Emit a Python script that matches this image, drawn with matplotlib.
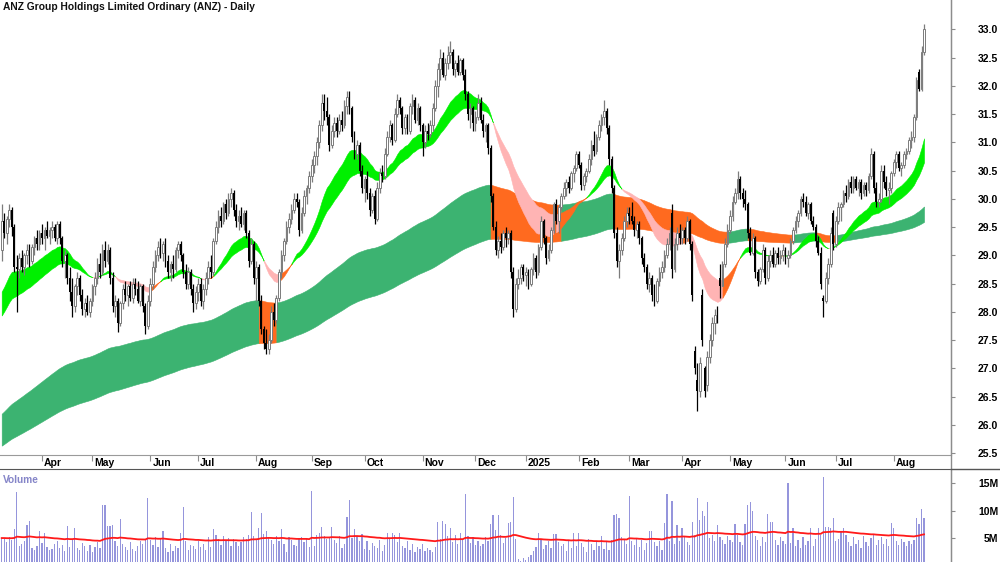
import numpy as np
import pandas as pd
import matplotlib.pyplot as plt
from matplotlib.lines import Line2D
from matplotlib.transforms import ScaledTranslation

plt.rcParams['font.family'] = ['Liberation Sans', 'DejaVu Sans']

# ASX trading days shown on the chart
asx_holidays = ['2024-03-29', '2024-04-01', '2024-04-25', '2024-06-10', '2024-12-25',
                '2024-12-26', '2025-01-01', '2025-01-27', '2025-04-18', '2025-04-21',
                '2025-04-25', '2025-06-09']
dates = pd.bdate_range('2024-03-07', '2025-08-18', freq='C', holidays=asx_holidays)

opens = [
    29.1, 29.6, 29.4, 29.65, 29.8, 29.5, 28.8, 28.75, 28.95, 28.8,
    29.0, 29.1, 28.9, 29.15, 29.3, 29.2, 29.4, 29.3, 29.45, 29.35,
    29.45, 29.5, 29.3, 29.55, 29.3, 28.9, 29.0, 28.6, 28.35, 28.1,
    28.45, 28.6, 28.3, 28.05, 28.15, 28.0, 28.2, 28.45, 28.6, 28.85,
    28.7, 29.1, 28.9, 29.1, 28.6, 28.1, 28.2, 27.8, 28.15, 28.4,
    28.3, 28.45, 28.25, 28.5, 28.4, 28.2, 28.45, 28.1, 27.75, 28.2,
    28.5, 28.8, 29.0, 29.15, 29.05, 29.2, 28.9, 28.7, 28.85, 28.75,
    29.1, 29.2, 29.0, 28.7, 28.5, 28.7, 28.4, 28.15, 28.35, 28.5,
    28.2, 28.4, 28.6, 28.8, 28.7, 29.25, 29.5, 29.7, 29.6, 29.9,
    29.75, 30.0, 30.1, 29.8, 29.6, 29.7, 29.55, 29.75, 29.4, 28.9,
    29.2, 28.6, 28.8, 28.2, 27.7, 27.45, 27.35, 27.5, 28.0, 27.85,
    28.25, 28.7, 29.0, 29.25, 29.5, 29.65, 29.8, 30.0, 29.95, 29.45,
    29.75, 30.05, 30.2, 30.4, 30.6, 30.75, 31.0, 31.3, 31.7, 31.55,
    31.45, 30.95, 31.2, 31.35, 31.2, 31.4, 31.3, 31.65, 31.8, 31.6,
    31.1, 30.8, 30.95, 30.5, 30.2, 30.35, 30.1, 29.8, 30.05, 29.65,
    30.2, 30.45, 30.4, 30.8, 31.1, 31.3, 31.05, 31.5, 31.75, 31.6,
    31.25, 31.45, 31.2, 31.65, 31.75, 31.4, 31.6, 31.3, 31.0, 31.2,
    31.15, 31.3, 31.6, 32.0, 32.3, 32.5, 32.2, 32.4, 32.55, 32.6,
    32.3, 32.4, 32.25, 32.45, 32.2, 31.85, 31.5, 31.6, 31.35, 31.45,
    31.7, 31.4, 31.2, 31.3, 30.9, 30.05, 29.5, 29.1, 29.25, 29.15,
    29.4, 29.3, 29.4, 28.7, 28.05, 28.5, 28.6, 28.8, 28.65, 28.7,
    28.5, 28.75, 28.95, 28.7, 29.15, 29.6, 29.3, 28.95, 29.1, 29.45,
    29.9, 29.6, 29.85, 30.05, 30.2, 30.3, 30.2, 30.45, 30.55, 30.8,
    30.6, 30.25, 30.4, 30.5, 30.7, 30.95, 30.85, 31.1, 31.3, 31.45,
    31.55, 31.25, 30.7, 30.2, 29.4, 28.9, 29.1, 29.3, 29.6, 29.75,
    29.7, 29.6, 29.45, 29.55, 29.3, 28.95, 28.8, 28.5, 28.6, 28.3,
    28.2, 28.55, 28.7, 28.8, 29.0, 29.2, 29.75, 28.75, 29.2, 29.4,
    29.3, 29.45, 29.3, 29.6, 29.2, 27.3, 26.8, 26.6, 28.3, 27.0,
    26.7, 27.2, 27.5, 27.8, 27.95, 28.6, 28.45, 28.85, 29.2, 29.45,
    29.7, 29.95, 30.1, 30.35, 30.1, 30.0, 29.9, 29.4, 29.05, 29.3,
    28.7, 28.55, 28.75, 29.1, 28.6, 28.9, 29.0, 28.85, 29.05, 28.95,
    29.0, 29.1, 28.95, 29.0, 29.25, 29.45, 29.6, 29.75, 30.0, 29.95,
    29.75, 29.9, 29.6, 29.5, 29.25, 29.05, 28.25, 28.2, 28.6, 28.85,
    29.75, 29.2, 29.6, 29.85, 29.9, 30.1, 30.05, 30.3, 30.2, 30.35,
    30.2, 30.3, 30.1, 30.25, 30.15, 30.4, 30.8, 30.2, 29.95, 30.0,
    30.5, 30.3, 30.15, 30.2, 30.45, 30.65, 30.8, 30.55, 30.6, 30.8,
    30.85, 31.05, 31.1, 31.45, 32.25, 31.95, 32.6,
]
highs = [
    29.9, 29.75, 29.7, 29.9, 29.85, 29.55, 29.0, 29.05, 29.1, 29.05,
    29.2, 29.2, 29.2, 29.35, 29.45, 29.45, 29.55, 29.5, 29.6, 29.5,
    29.6, 29.55, 29.6, 29.6, 29.35, 29.1, 29.05, 28.8, 28.6, 28.5,
    28.7, 28.65, 28.4, 28.25, 28.3, 28.25, 28.5, 28.7, 28.95, 29.05,
    29.2, 29.25, 29.2, 29.15, 28.7, 28.3, 28.25, 28.2, 28.5, 28.55,
    28.5, 28.55, 28.6, 28.6, 28.55, 28.5, 28.5, 28.15, 28.3, 28.6,
    28.9, 29.1, 29.25, 29.3, 29.25, 29.3, 29.0, 28.9, 29.0, 29.15,
    29.25, 29.25, 29.05, 28.85, 28.8, 28.75, 28.5, 28.45, 28.6, 28.6,
    28.5, 28.7, 28.9, 29.0, 29.3, 29.6, 29.8, 29.85, 29.95, 30.0,
    30.1, 30.2, 30.15, 29.9, 29.8, 29.85, 29.8, 29.8, 29.45, 29.3,
    29.25, 28.9, 28.85, 28.3, 27.75, 27.7, 27.6, 28.1, 28.15, 28.3,
    28.75, 29.1, 29.3, 29.6, 29.75, 29.9, 30.1, 30.1, 30.0, 29.85,
    30.15, 30.25, 30.5, 30.7, 30.85, 31.1, 31.4, 31.85, 31.85, 31.8,
    31.5, 31.3, 31.45, 31.45, 31.5, 31.55, 31.75, 31.9, 31.9, 31.65,
    31.2, 31.05, 31.0, 30.6, 30.4, 30.5, 30.2, 30.1, 30.15, 30.3,
    30.55, 30.6, 30.9, 31.2, 31.4, 31.35, 31.6, 31.85, 31.8, 31.65,
    31.5, 31.5, 31.7, 31.85, 31.8, 31.7, 31.65, 31.35, 31.3, 31.35,
    31.4, 31.7, 32.1, 32.4, 32.65, 32.6, 32.5, 32.7, 32.8, 32.65,
    32.45, 32.55, 32.5, 32.5, 32.3, 31.9, 31.7, 31.65, 31.55, 31.85,
    31.8, 31.5, 31.35, 31.35, 30.95, 30.1, 29.6, 29.35, 29.4, 29.45,
    29.5, 29.45, 29.45, 28.8, 28.6, 28.75, 28.85, 28.85, 28.8, 28.75,
    28.8, 29.05, 29.0, 29.2, 29.7, 29.65, 29.35, 29.2, 29.5, 29.95,
    30.0, 29.9, 30.1, 30.3, 30.35, 30.4, 30.5, 30.6, 30.85, 30.85,
    30.65, 30.45, 30.55, 30.8, 31.05, 31.2, 31.15, 31.4, 31.5, 31.75,
    31.6, 31.3, 30.75, 30.25, 29.5, 29.2, 29.4, 29.7, 29.85, 29.85,
    29.95, 29.7, 29.6, 29.6, 29.35, 29.05, 28.85, 28.7, 28.65, 28.5,
    28.6, 28.8, 28.9, 29.1, 29.3, 29.5, 29.9, 29.3, 29.5, 29.55,
    29.5, 29.5, 29.7, 29.65, 29.25, 27.4, 27.1, 27.2, 28.4, 27.05,
    27.3, 27.6, 27.9, 28.05, 28.1, 28.85, 28.9, 29.3, 29.55, 29.8,
    30.05, 30.2, 30.5, 30.4, 30.2, 30.15, 29.95, 29.5, 29.4, 29.35,
    28.75, 28.8, 29.2, 29.15, 29.0, 29.1, 29.15, 29.1, 29.15, 29.1,
    29.2, 29.15, 29.1, 29.3, 29.5, 29.7, 29.8, 30.05, 30.1, 30.05,
    29.95, 29.95, 29.7, 29.55, 29.35, 29.15, 28.3, 28.7, 28.95, 29.5,
    29.8, 29.7, 29.95, 29.95, 30.15, 30.25, 30.35, 30.4, 30.4, 30.4,
    30.35, 30.35, 30.3, 30.3, 30.45, 30.9, 30.85, 30.3, 30.1, 30.6,
    30.6, 30.4, 30.3, 30.5, 30.7, 30.85, 30.85, 30.65, 30.85, 30.9,
    31.1, 31.2, 31.5, 32.15, 32.3, 32.7, 33.1,
]
lows = [
    28.9, 29.3, 29.2, 29.5, 29.35, 28.7, 28.0, 28.6, 28.7, 28.65,
    28.85, 28.8, 28.85, 29.0, 29.1, 29.1, 29.2, 29.1, 29.3, 29.2,
    29.3, 29.25, 29.2, 29.2, 28.8, 28.6, 28.5, 28.2, 27.9, 28.0,
    28.3, 28.2, 27.95, 27.9, 27.95, 27.9, 28.1, 28.3, 28.5, 28.6,
    28.65, 28.8, 28.85, 28.5, 28.0, 27.9, 27.65, 27.75, 28.05, 28.2,
    28.1, 28.2, 28.15, 28.3, 28.15, 28.1, 28.0, 27.6, 27.7, 28.1,
    28.4, 28.7, 28.9, 28.95, 28.9, 28.8, 28.6, 28.55, 28.6, 28.7,
    28.95, 28.9, 28.6, 28.4, 28.4, 28.3, 28.0, 28.05, 28.2, 28.1,
    28.05, 28.3, 28.5, 28.6, 28.65, 29.2, 29.4, 29.5, 29.55, 29.65,
    29.7, 29.85, 29.7, 29.5, 29.45, 29.5, 29.45, 29.3, 28.8, 28.85,
    28.5, 28.2, 28.1, 27.6, 27.35, 27.25, 27.25, 27.45, 27.75, 27.8,
    28.2, 28.6, 28.9, 29.2, 29.4, 29.55, 29.75, 29.85, 29.35, 29.4,
    29.7, 29.9, 30.1, 30.3, 30.45, 30.6, 30.9, 31.2, 31.4, 31.3,
    30.85, 30.9, 31.1, 31.1, 31.15, 31.2, 31.25, 31.5, 31.5, 31.0,
    30.7, 30.7, 30.4, 30.1, 29.95, 30.0, 29.7, 29.75, 29.55, 29.6,
    30.1, 30.3, 30.35, 30.75, 31.0, 30.95, 31.0, 31.45, 31.5, 31.15,
    31.15, 31.15, 31.15, 31.5, 31.35, 31.3, 31.2, 30.75, 30.9, 31.05,
    31.1, 31.2, 31.55, 31.8, 32.1, 32.15, 32.1, 32.3, 32.4, 32.2,
    32.15, 32.2, 32.2, 32.1, 31.75, 31.4, 31.25, 31.2, 31.2, 31.4,
    31.35, 31.1, 31.0, 30.8, 29.95, 29.45, 29.0, 28.95, 29.05, 29.1,
    29.15, 29.2, 28.6, 27.9, 28.0, 28.4, 28.5, 28.55, 28.45, 28.4,
    28.45, 28.65, 28.6, 28.65, 29.1, 29.2, 28.85, 28.9, 29.05, 29.4,
    29.55, 29.4, 29.8, 30.0, 30.05, 30.1, 30.15, 30.3, 30.5, 30.55,
    30.15, 30.15, 30.3, 30.45, 30.6, 30.75, 30.8, 31.05, 31.2, 31.3,
    31.15, 30.6, 30.1, 29.3, 28.8, 28.6, 29.0, 29.25, 29.5, 29.55,
    29.55, 29.35, 29.3, 29.2, 28.85, 28.7, 28.4, 28.35, 28.2, 28.1,
    28.15, 28.45, 28.6, 28.7, 28.95, 29.1, 28.6, 28.7, 29.1, 29.2,
    29.2, 29.2, 29.25, 29.1, 28.2, 26.9, 26.25, 26.5, 27.4, 26.5,
    26.6, 27.1, 27.4, 27.6, 27.8, 28.25, 28.45, 28.8, 29.15, 29.4,
    29.6, 29.9, 30.0, 30.0, 29.85, 29.8, 29.3, 29.0, 29.0, 28.6,
    28.45, 28.5, 28.7, 28.5, 28.55, 28.8, 28.8, 28.8, 28.85, 28.85,
    28.9, 28.85, 28.8, 28.95, 29.2, 29.4, 29.5, 29.7, 29.85, 29.7,
    29.65, 29.55, 29.45, 29.15, 29.0, 28.4, 27.9, 28.15, 28.5, 28.8,
    29.1, 29.15, 29.55, 29.6, 29.85, 29.95, 30.0, 30.1, 30.1, 30.15,
    30.05, 30.0, 30.05, 30.05, 30.1, 30.35, 30.1, 29.85, 29.85, 29.95,
    30.2, 30.05, 29.9, 30.1, 30.4, 30.55, 30.5, 30.4, 30.55, 30.7,
    30.8, 30.9, 31.0, 31.4, 31.9, 31.9, 32.55,
]
closes = [
    29.6, 29.4, 29.65, 29.8, 29.5, 28.8, 28.75, 28.95, 28.8, 29.0,
    29.1, 28.9, 29.15, 29.3, 29.2, 29.4, 29.3, 29.45, 29.35, 29.45,
    29.5, 29.3, 29.55, 29.3, 28.9, 29.0, 28.6, 28.35, 28.1, 28.45,
    28.6, 28.3, 28.05, 28.15, 28.0, 28.2, 28.45, 28.6, 28.85, 28.7,
    29.1, 28.9, 29.1, 28.6, 28.1, 28.2, 27.8, 28.15, 28.4, 28.3,
    28.45, 28.25, 28.5, 28.4, 28.2, 28.45, 28.1, 27.75, 28.2, 28.5,
    28.8, 29.0, 29.15, 29.05, 29.2, 28.9, 28.7, 28.85, 28.75, 29.1,
    29.2, 29.0, 28.7, 28.5, 28.7, 28.4, 28.15, 28.35, 28.5, 28.2,
    28.4, 28.6, 28.8, 28.7, 29.25, 29.5, 29.7, 29.6, 29.9, 29.75,
    30.0, 30.1, 29.8, 29.6, 29.7, 29.55, 29.75, 29.4, 28.9, 29.2,
    28.6, 28.8, 28.2, 27.7, 27.45, 27.35, 27.5, 28.0, 27.85, 28.25,
    28.7, 29.0, 29.25, 29.5, 29.65, 29.8, 30.0, 29.95, 29.45, 29.75,
    30.05, 30.2, 30.4, 30.6, 30.75, 31.0, 31.3, 31.7, 31.55, 31.45,
    30.95, 31.2, 31.35, 31.2, 31.4, 31.3, 31.65, 31.8, 31.6, 31.1,
    30.8, 30.95, 30.5, 30.2, 30.35, 30.1, 29.8, 30.05, 29.65, 30.2,
    30.45, 30.4, 30.8, 31.1, 31.3, 31.05, 31.5, 31.75, 31.6, 31.25,
    31.45, 31.2, 31.65, 31.75, 31.4, 31.6, 31.3, 31.0, 31.2, 31.15,
    31.3, 31.6, 32.0, 32.3, 32.5, 32.2, 32.4, 32.55, 32.6, 32.3,
    32.4, 32.25, 32.45, 32.2, 31.85, 31.5, 31.6, 31.35, 31.45, 31.7,
    31.4, 31.2, 31.3, 30.9, 30.05, 29.5, 29.1, 29.25, 29.15, 29.4,
    29.3, 29.4, 28.7, 28.05, 28.5, 28.6, 28.8, 28.65, 28.7, 28.5,
    28.75, 28.95, 28.7, 29.15, 29.6, 29.3, 28.95, 29.1, 29.45, 29.9,
    29.6, 29.85, 30.05, 30.2, 30.3, 30.2, 30.45, 30.55, 30.8, 30.6,
    30.25, 30.4, 30.5, 30.7, 30.95, 30.85, 31.1, 31.3, 31.45, 31.55,
    31.25, 30.7, 30.2, 29.4, 28.9, 29.1, 29.3, 29.6, 29.75, 29.7,
    29.6, 29.45, 29.55, 29.3, 28.95, 28.8, 28.5, 28.6, 28.3, 28.2,
    28.55, 28.7, 28.8, 29.0, 29.2, 29.4, 28.75, 29.2, 29.4, 29.3,
    29.45, 29.3, 29.6, 29.2, 28.3, 27.0, 26.6, 27.1, 27.5, 26.6,
    27.2, 27.5, 27.8, 27.95, 27.9, 28.45, 28.85, 29.2, 29.45, 29.7,
    29.95, 30.1, 30.35, 30.1, 30.0, 29.9, 29.4, 29.05, 29.3, 28.7,
    28.55, 28.75, 29.1, 28.6, 28.9, 29.0, 28.85, 29.05, 28.95, 29.0,
    29.1, 28.95, 29.0, 29.25, 29.45, 29.6, 29.75, 30.0, 29.95, 29.75,
    29.9, 29.6, 29.5, 29.25, 29.05, 28.5, 28.2, 28.6, 28.85, 29.4,
    29.2, 29.6, 29.85, 29.9, 30.1, 30.05, 30.3, 30.2, 30.35, 30.2,
    30.3, 30.1, 30.25, 30.15, 30.4, 30.8, 30.2, 29.95, 30.0, 30.5,
    30.3, 30.15, 30.2, 30.45, 30.65, 30.8, 30.55, 30.6, 30.8, 30.85,
    31.05, 31.1, 31.45, 32.1, 31.95, 32.6, 33.0,
]
# volume in millions of shares
volumes = [
    4.8, 5.0, 4.2, 5.1, 4.6, 6.6, 13.4, 3.5, 4.0, 4.4,
    7.4, 8.1, 3.2, 2.9, 3.6, 6.2, 4.1, 6.0, 3.3, 2.8,
    3.0, 3.9, 4.4, 3.1, 3.7, 2.6, 7.2, 3.3, 4.6, 6.9,
    3.2, 2.9, 4.1, 3.5, 2.7, 3.8, 2.4, 3.4, 4.3, 3.1,
    11.0, 11.0, 7.2, 7.2, 7.3, 4.5, 3.6, 8.4, 4.0, 3.3,
    2.8, 4.2, 3.0, 2.6, 3.5, 4.4, 3.9, 4.8, 12.3, 4.6,
    3.7, 5.2, 3.4, 4.9, 6.2, 3.1, 2.5, 4.0, 2.7, 3.6,
    3.2, 6.0, 10.6, 4.4, 2.9, 3.8, 3.5, 3.0, 4.5, 3.3,
    3.9, 2.8, 5.1, 3.4, 6.6, 5.5, 4.8, 3.7, 5.3, 4.4,
    5.0, 3.6, 4.9, 4.2, 3.5, 4.3, 5.2, 4.8, 5.6, 9.7,
    5.4, 4.9, 6.9, 9.6, 5.8, 6.2, 5.0, 4.7, 3.9, 5.3,
    4.4, 6.6, 4.0, 2.4, 5.1, 4.6, 3.8, 3.5, 4.9, 5.2,
    4.2, 5.0, 3.4, 13.5, 3.6, 5.6, 6.0, 7.0, 5.4, 4.8,
    5.2, 7.0, 4.6, 4.1, 5.3, 3.2, 4.0, 8.8, 11.9, 5.0,
    6.6, 5.4, 4.5, 5.8, 3.0, 4.4, 2.9, 4.1, 3.5, 3.2,
    4.6, 2.7, 3.8, 5.9, 4.8, 5.9, 5.6, 4.3, 5.9, 3.6,
    3.1, 4.5, 2.8, 3.9, 2.5, 3.4, 3.0, 4.0, 2.6, 3.2,
    2.9, 2.4, 3.3, 7.9, 4.9, 8.1, 7.5, 5.4, 6.9, 4.2,
    5.5, 3.9, 5.9, 4.6, 13.0, 5.3, 4.1, 5.1, 3.7, 4.5,
    3.6, 4.0, 5.2, 4.4, 7.6, 9.2, 6.4, 9.2, 5.6, 4.1,
    5.0, 7.8, 8.0, 12.4, 4.9, 1.2, 0.8, 1.4, 1.0, 1.5,
    1.9, 2.6, 3.4, 5.9, 4.6, 3.0, 3.8, 4.4, 3.2, 5.8,
    5.7, 4.2, 3.5, 3.9, 2.7, 4.5, 3.1, 5.9, 3.6, 6.0,
    4.1, 3.3, 2.5, 4.8, 3.9, 2.8, 4.4, 3.5, 5.4, 3.0,
    4.2, 2.9, 4.6, 9.1, 9.4, 8.7, 5.2, 4.6, 3.9, 12.6,
    4.5, 3.7, 4.9, 3.3, 4.6, 2.8, 4.1, 6.3, 6.3, 4.3,
    3.6, 4.4, 2.9, 7.8, 13.0, 4.4, 11.7, 4.0, 7.3, 4.5,
    6.8, 5.1, 4.2, 3.8, 8.0, 5.6, 12.3, 8.2, 9.9, 9.0,
    11.5, 5.0, 5.6, 4.4, 7.4, 5.1, 4.6, 3.9, 5.3, 4.7,
    4.2, 7.6, 5.5, 4.3, 3.8, 7.6, 11.0, 11.5, 10.0, 5.4,
    4.6, 3.6, 5.1, 4.3, 9.4, 8.0, 7.9, 4.6, 3.7, 5.2,
    4.4, 3.9, 15.0, 4.1, 6.8, 3.5, 4.6, 3.2, 5.1, 3.8,
    4.4, 6.8, 3.6, 4.9, 6.8, 5.6, 16.1, 7.0, 7.0, 6.9,
    8.7, 4.5, 4.9, 6.2, 6.9, 5.5, 4.3, 3.6, 5.2, 3.9,
    4.7, 3.1, 5.4, 4.2, 3.5, 5.0, 5.7, 3.8, 4.6, 5.1,
    4.0, 4.8, 3.6, 7.8, 6.9, 4.5, 3.7, 4.9, 4.2, 3.5,
    4.4, 3.9, 4.6, 8.7, 7.6, 10.3, 8.6,
]


def ema(values, n, seed):
    a = 2.0 / (n + 1)
    out = np.empty(len(values))
    prev = seed
    for k, v in enumerate(values):
        prev = prev + a * (v - prev)
        out[k] = prev
    return out


o = np.array(opens)
h = np.array(highs)
l = np.array(lows)
c = np.array(closes)
vol = np.array(volumes)
n = len(c)
x = np.arange(n)
d = dates[:n]

# ribbons (moving averages of the close)
short_fast = ema(c, 24, 28.25)
short_slow = ema(c, 40, 27.85)
long_fast = ema(c, 150, 26.15)
long_slow = ema(c, 250, 25.6)
vol_avg = ema(vol, 70, 5.0)

GREEN = '#00f000'
ORANGE = '#ff6a1f'
PINK = '#ffb4b4'
DKGREEN = '#3cb371'


def draw_runs(ax, a, b, states, colors, z):
    start = 0
    for i in range(1, n + 1):
        if i == n or states[i] != states[start]:
            end = min(i, n - 1)
            col = colors[states[start]]
            ax.fill_between(x[start:end + 1], a[start:end + 1], b[start:end + 1],
                            facecolor=col, edgecolor=col, linewidth=0.4, zorder=z)
            start = i


fig = plt.figure(figsize=(10, 5.62), dpi=100)
ax = fig.add_axes([0, 1 - 455 / 562, 0.951, 455 / 562])
axv = fig.add_axes([0, 0, 0.951, 93 / 562])

# long ribbon: green while price closes above it
long_top = np.maximum(long_fast, long_slow)
long_state = np.where(c > long_top, 0, 1)
draw_runs(ax, long_fast, long_slow, long_state, [DKGREEN, ORANGE], 1)

# short ribbon
slow_up = np.diff(short_slow, prepend=short_slow[0]) >= 0
short_state = np.where(short_fast >= short_slow, 0, np.where(slow_up, 1, 2))
draw_runs(ax, short_fast, short_slow, short_state, [GREEN, ORANGE, PINK], 2)

# candles
up = c >= o
ax.vlines(x[up], l[up], h[up], color='#7c7c7c', linewidth=0.9, zorder=3)
ax.vlines(x[~up], l[~up], h[~up], color='black', linewidth=0.9, zorder=3)
body_lo = np.minimum(o, c)
body_h = np.maximum(np.abs(c - o), 0.02)
ax.bar(x[up], body_h[up], bottom=body_lo[up], width=0.7, facecolor='white',
       edgecolor='#7c7c7c', linewidth=0.7, zorder=4)
ax.bar(x[~up], body_h[~up], bottom=body_lo[~up], width=0.7, color='black',
       linewidth=0, zorder=4)

ax.set_xlim(-0.67, 376.7)
ax.set_ylim(25.466, 33.519)
for s in ['left', 'top']:
    ax.spines[s].set_visible(False)
ax.spines['right'].set_color('#8c8c8c')
ax.spines['bottom'].set_color('#9a9a9a')

ax.yaxis.tick_right()
ax.set_yticks(np.arange(25.5, 33.01, 0.5))
ax.set_yticklabels([f'{v:.1f}' for v in np.arange(25.5, 33.01, 0.5)])
ax.tick_params(axis='y', length=3, color='#8c8c8c', pad=31, labelsize=7.5)
for lab in ax.get_yticklabels():
    lab.set_horizontalalignment('right')
    lab.set_fontweight('bold')

# month ticks
months = pd.Series(d.to_period('M'))
first = np.flatnonzero(months.ne(months.shift()).values)[1:]
mlabels = [str(d[i].year) if d[i].month == 1 else d[i].strftime('%b') for i in first]
ax.set_xticks(first)
ax.set_xticklabels(mlabels)
ax.tick_params(axis='x', length=4, color='#8c8c8c', pad=-1.5, labelsize=7.5)
shift = ScaledTranslation(2 / 100, 0, fig.dpi_scale_trans)
for lab in ax.get_xticklabels():
    lab.set_horizontalalignment('left')
    lab.set_fontweight('bold')
    lab.set_transform(lab.get_transform() + shift)

ax.text(0.003, 0.995, 'ANZ Group Holdings Limited Ordinary (ANZ) - Daily',
        transform=ax.transAxes, ha='left', va='top', fontsize=7.4,
        fontweight='bold', color='#111111')

# volume panel
axv.bar(x, vol, width=0.5, color='#9595dc', linewidth=0, zorder=2)
axv.plot(x, vol_avg, color='#ff1a1a', linewidth=1.3, zorder=3)
axv.set_xlim(-0.67, 376.7)
axv.set_ylim(0.64, 17.55)
for s in ['left', 'bottom']:
    axv.spines[s].set_visible(False)
axv.spines['top'].set_color('#555555')
axv.spines['right'].set_color('#8c8c8c')
axv.set_xticks([])
axv.yaxis.tick_right()
axv.set_yticks([5, 10, 15])
axv.set_yticklabels(['5M', '10M', '15M'])
axv.tick_params(axis='y', length=3, color='#8c8c8c', pad=31, labelsize=7.5)
for lab in axv.get_yticklabels():
    lab.set_horizontalalignment('right')
    lab.set_fontweight('bold')
axv.text(0.003, 0.94, 'Volume', transform=axv.transAxes, ha='left', va='top',
         fontsize=7.3, fontweight='bold', color='#8585c8')

fig.add_artist(Line2D([0.951, 0.951], [0, 1], color='#8c8c8c', linewidth=1))
fig.add_artist(Line2D([0.951, 1], [1 - 469 / 562, 1 - 469 / 562], color='#555555', linewidth=1))

fig.savefig('out.png', dpi=100)
